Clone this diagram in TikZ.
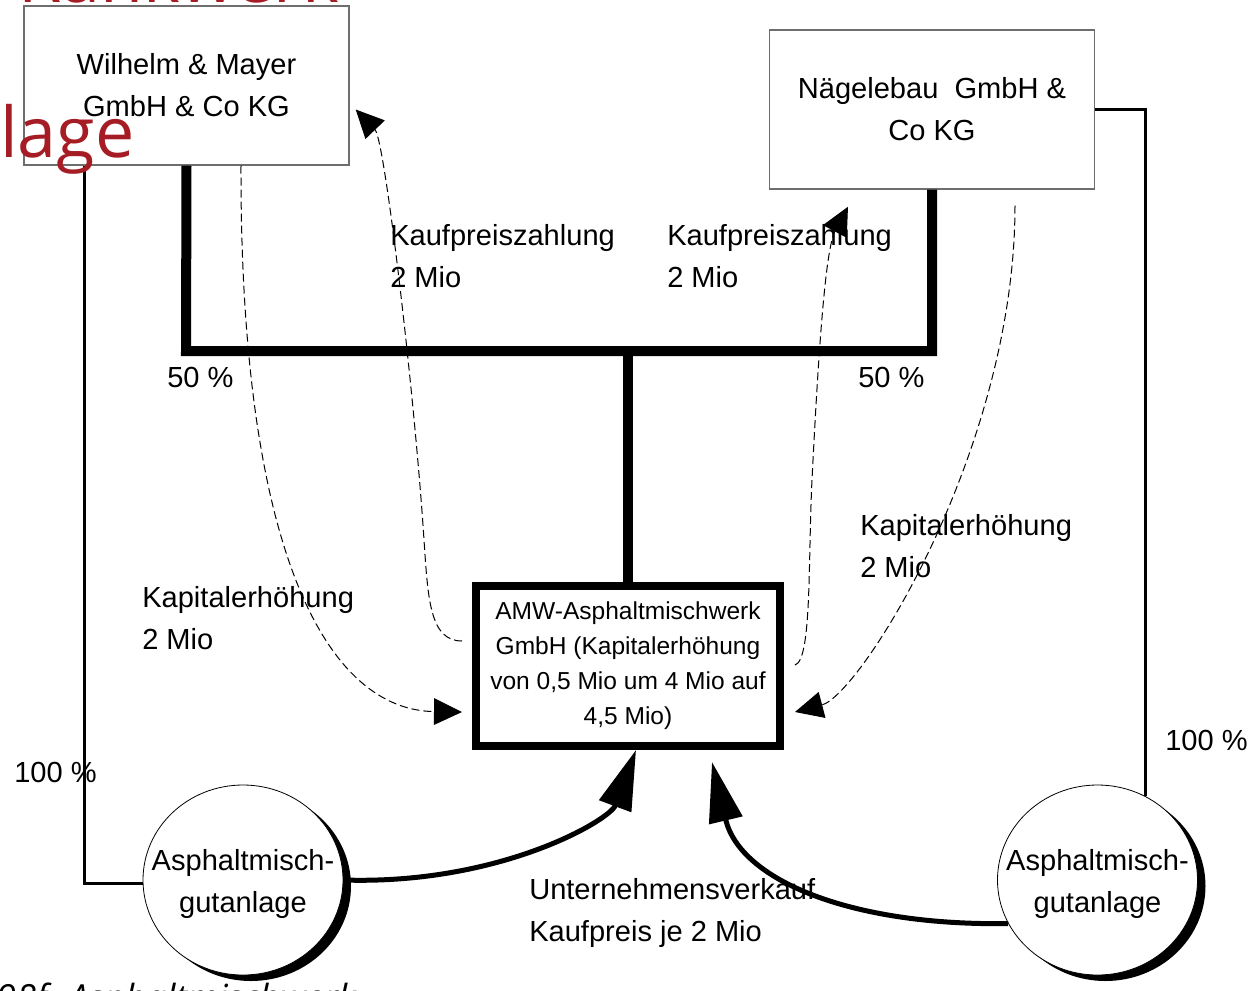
\documentclass[tikz,border=0pt]{standalone}
\usepackage{fontspec}
\setmainfont{Liberation Sans}
\newfontfamily\redfont{Open Sans}
\usetikzlibrary{arrows.meta,shapes.geometric,calc}
\definecolor{redtxt}{RGB}{165,28,36}
\definecolor{boxgray}{RGB}{110,110,110}
\begin{document}
\begin{tikzpicture}[x=0.75pt,y=-0.75pt,
  lbl/.style={font=\fontsize{21.8pt}{31.5pt}\selectfont, inner sep=0pt, align=left, anchor=base west},
  firm/.style={draw=boxgray, line width=1.1pt, minimum width=243.75pt, minimum height=119.25pt, align=center, font=\fontsize{21.8pt}{31.5pt}\selectfont, inner sep=0pt},
  bus/.style={line width=7.5pt},
  own/.style={line width=2.25pt},
  flow/.style={line width=3.75pt, -{Triangle[length=45pt,width=25pt]}},
  pay/.style={dash pattern=on 6pt off 3pt, line width=0.75pt, -{Triangle[length=21pt,width=20pt]}},
  plant/.style={ellipse, draw, line width=0.6pt, fill=white, minimum width=150pt, minimum height=142.5pt, inner sep=0pt},
  planttext/.style={align=center, font=\fontsize{21.8pt}{31.5pt}\selectfont, inner sep=0pt, yshift=-3pt},
  redlbl/.style={font=\redfont\fontsize{52.5pt}{60pt}\selectfont, text=redtxt, anchor=base west, inner sep=0pt}
]
\useasboundingbox (0,0) rectangle (1258,990);

% caption fragment at the bottom (partly hidden)
\node[font=\redfont\itshape\fontsize{27pt}{30pt}\selectfont, anchor=base west, inner sep=0pt] (cap) at (-4,1010) {98f. Asphaltmischwerk};

% firms
\node[firm] (WM) at (186.5,85.5) {Wilhelm \& Mayer\\GmbH \& Co KG};
\node[firm] (NB) at (932,109.5) {Nägelebau\ \ GmbH \&\\Co KG};

% AMW
\node[draw, line width=6pt, minimum width=228pt, minimum height=120pt, align=center,
      font=\fontsize{18.4pt}{26.25pt}\selectfont, inner sep=0pt, fill=white] (AMW) at (628,666)
      {AMW-Asphaltmischwerk\\GmbH (Kapitalerhöhung\\von 0,5 Mio um 4 Mio auf\\4,5 Mio)};

% plants with shadow
\fill (251,886) ellipse [x radius=75pt, y radius=71.25pt];
\node[plant] (LC) at (243,880) {};
\node[planttext] (LCt) at (LC.center) {Asphaltmisch-\\gutanlage};
\fill (1105.5,886) ellipse [x radius=75pt, y radius=71.25pt];
\node[plant] (RC) at (1097.5,880) {};
\node[planttext] (RCt) at (RC.center) {Asphaltmisch-\\gutanlage};

% ownership bus
\coordinate (bL) at (186,351);
\coordinate (bR) at (932,351);
\coordinate (bM) at (628,351);
\draw[bus] (WM.south) -- (bL) -- (bR) -- (NB.south);
\draw[bus] (bM) -- (AMW.north);

% 100 % ownership lines
\coordinate (oL) at (84,883);
\draw[own] (WM.south -| oL) -- (oL) -- (oL -| LC.west);
\draw[own] (NB.east) -- (NB.east -| RC.60) -- (RC.60);

% sale of plants
\draw[flow] (LC.east) .. controls (500,885) and (610,820) .. ($(AMW.south)+(8,0)$);
\draw[flow] (RC.206) .. controls (850,926) and (740,880) .. ($(AMW.south)+(84,12)$);

% payments (dashed)
\draw[pay] (WM.south -| 241,0) .. controls (240,560) and (330,710) .. ($(AMW.west)+(-10,46)$);
\draw[pay] ($(AMW.west)+(-10,-25)$) .. controls (430,641) and (428,600) .. (424,540)
           .. controls (415,400) and (385,140) .. ($(WM.east)+(6,24)$);
\draw[pay] ($(AMW.east)+(11,-1)$) .. controls (812,660) and (808,560) .. (812,480)
           .. controls (818,360) and (825,250) .. ($(NB.south)+(-84,17)$);
\draw[pay] ($(NB.south)+(83,16)$) .. controls (1015,450) and (860,695) .. ($(AMW.east)+(11,46)$);

% labels (anchor = baseline of the last line)
\node[lbl] (kp1) at (390,287) {Kaufpreiszahlung\\2 Mio};
\node[lbl] (kp2) at (667,287) {Kaufpreiszahlung\\2 Mio};
\node[lbl] (p1) at (167,387) {50 \%};
\node[lbl] (p2) at (858,387) {50 \%};
\node[lbl] (ke1) at (860,577) {Kapitalerhöhung\\2 Mio};
\node[lbl] (ke2) at (142,649) {Kapitalerhöhung\\2 Mio};
\node[lbl] (h1) at (14,782) {100 \%};
\node[lbl] (h2) at (1165,750) {100 \%};
\node[lbl] (uv) at (529,941) {Unternehmensverkauf\\Kaufpreis je 2 Mio};

% red overlay text fragments
\node[redlbl] (red1) at (18,2) {Rankwerk};
\node[redlbl] (red2) at (0,157) {lage};
\end{tikzpicture}
\end{document}
